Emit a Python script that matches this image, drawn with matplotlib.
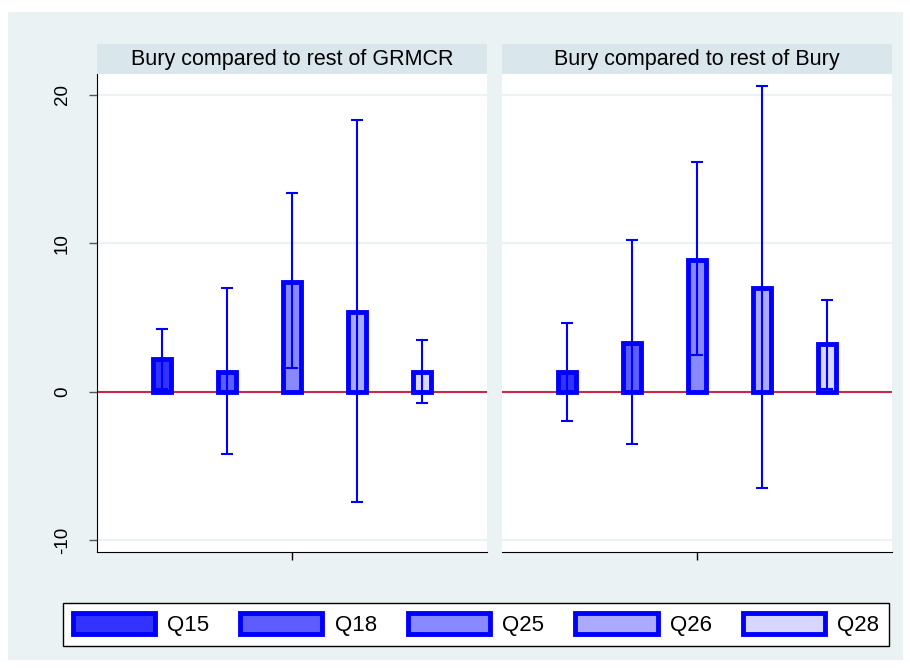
import matplotlib
matplotlib.use("Agg")
import matplotlib.pyplot as plt
from matplotlib.patches import Patch
import numpy as np

plt.rcParams['font.family'] = ['Liberation Sans', 'DejaVu Sans']

categories = ["Q15", "Q18", "Q25", "Q26", "Q28"]
panels = ["Bury compared to rest of GRMCR", "Bury compared to rest of Bury"]
# panel 1
p1_mean = [2.2, 1.3, 7.4, 5.4, 1.3]
p1_low = [0.2, -4.2, 1.6, -7.4, -0.75]
p1_high = [4.25, 7.0, 13.4, 18.3, 3.5]
# panel 2
p2_mean = [1.3, 3.3, 8.9, 7.0, 3.2]
p2_low = [-2.0, -3.5, 2.5, -6.5, 0.15]
p2_high = [4.6, 10.2, 15.5, 20.6, 6.2]
yticks = [-10, 0, 10, 20]

fills = ["#3333FF", "#5C5CFF", "#8888FF", "#AAAAFF", "#D6D6FF"]
edge = "#0000FF"
bg = "#EAF2F3"
strip = "#D9E6EB"

W, H = 910, 668
fig = plt.figure(figsize=(W/100, H/100), dpi=100)
fig.patch.set_facecolor("white")

def fx(px): return px / W
def fy(py): return 1 - py / H

bax = fig.add_axes([fx(8), fy(660), (903-8)/W, (660-12)/H], zorder=-10)
bax.set_facecolor(bg)
bax.set_xticks([]); bax.set_yticks([])
for s in bax.spines.values():
    s.set_visible(False)

data = [(p1_mean, p1_low, p1_high), (p2_mean, p2_low, p2_high)]
lefts = [97, 502]
pw = 390
xs = np.arange(len(categories)) - 2
for i, (m, lo, hi) in enumerate(data):
    L = lefts[i]
    ax = fig.add_axes([fx(L), fy(552), pw/W, (552-74)/H])
    ax.set_facecolor("white")
    ax.set_xlim(-3, 3)
    ax.set_ylim(-10.8, 21.4)
    for yv in yticks:
        ax.axhline(yv, color=bg, lw=1.5, zorder=0)
    ax.axhline(0, color="#C8284B", lw=1.5, zorder=1)
    m = np.array(m); lo = np.array(lo); hi = np.array(hi)
    for j in range(len(categories)):
        ax.bar(xs[j], m[j], width=0.28, color=fills[j], edgecolor=edge,
               linewidth=3.5, zorder=2)
    ax.errorbar(xs, m, yerr=[m - lo, hi - m], fmt="none", ecolor=edge,
                elinewidth=1.5, capsize=4, capthick=1.5, zorder=3)
    ax.set_xticks([0])
    ax.set_xticklabels([""])
    ax.tick_params(axis="x", length=5.8, color="black", width=1)
    for s in ["top", "right"]:
        ax.spines[s].set_visible(False)
    ax.spines["bottom"].set_color("black")
    if i == 0:
        ax.set_yticks(yticks)
        ax.set_yticklabels([str(t) for t in yticks], rotation=90, va="center",
                           fontsize=13.5)
        ax.tick_params(axis="y", length=5.8, color="#555555", width=1, pad=13)
        ax.spines["left"].set_color("black")
    else:
        ax.set_yticks([])
        ax.spines["left"].set_visible(False)
    # strip
    sax = fig.add_axes([fx(L), fy(74), pw/W, 30/H])
    sax.set_facecolor(strip)
    sax.set_xticks([]); sax.set_yticks([])
    for s in sax.spines.values():
        s.set_visible(False)
    sax.text(0.5, 0.5, panels[i], ha="center", va="center", fontsize=15.5,
             transform=sax.transAxes)

handles = [Patch(facecolor=fills[j], edgecolor=edge, linewidth=3.5)
           for j in range(len(categories))]
leg = fig.legend(handles, categories, loc="center",
                 bbox_to_anchor=(fx(476), fy(624.5)), ncol=5, fontsize=16,
                 frameon=True, fancybox=False, edgecolor="black", framealpha=1,
                 handlelength=3.7, handleheight=1.04, columnspacing=1.4,
                 handletextpad=0.55, borderpad=0.45, borderaxespad=0)
leg.get_frame().set_linewidth(1.0)
leg.get_frame().set_facecolor("white")

fig.savefig("out.png", dpi=100, facecolor=fig.get_facecolor())
